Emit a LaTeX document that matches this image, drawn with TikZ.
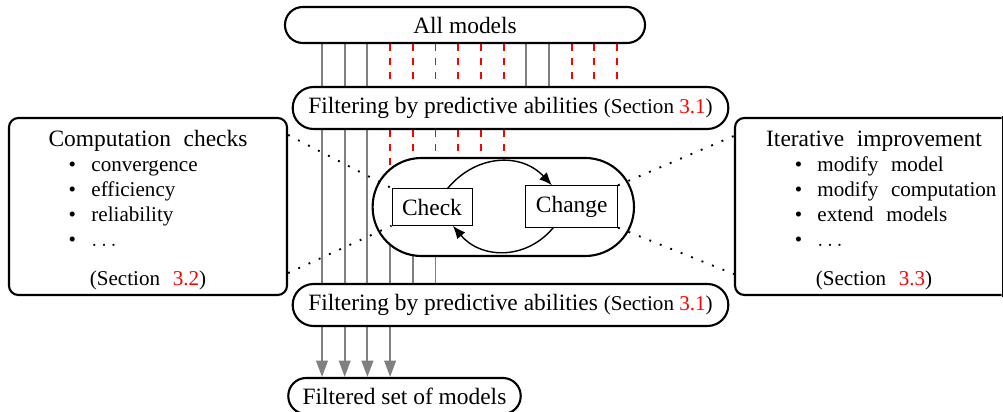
\documentclass[tikz,border=0pt]{standalone}
\usepackage{fontspec}
\setmainfont{Liberation Serif}
\usepackage{xcolor}
\usetikzlibrary{arrows.meta,calc,backgrounds}
\newcommand{\bulletitem}{\hspace*{25.5pt}\makebox[9.7pt][l]{\textbullet}}
\newcommand{\sidesetup}{\baselineskip=10.6pt\spaceskip=.6em\relax}
\newcommand{\sidetitle}[1]{\makebox[\linewidth]{\rule{0pt}{10pt}\normalsize #1}}

\begin{document}
\begin{tikzpicture}[x=0.015cm,y=0.015cm,
  pill/.style={draw,line width=0.9pt,fill=white,rounded corners=7.6pt,minimum width=5.4cm,minimum height=0.54cm,inner sep=0pt},
  filterbox/.style={pill,rounded corners=8.9pt,minimum width=6.534cm,minimum height=0.63cm},
  stepbox/.style={draw,inner sep=4.3pt},
  sidebox/.style={line width=0.9pt,rounded corners=4pt,minimum width=4.17cm,minimum height=2.655cm,text width=4.17cm,inner sep=0pt,align=left,font=\small},
  kept/.style={gray,thick},
  dropped/.style={red,thick,dashed},
  cyclearrow/.style={semithick,-{Latex[length=5.5pt,width=4.5pt]}},
  link/.style={thick,loosely dotted}]
\useasboundingbox (0,0) rectangle (1003,-412);
% pipeline
\node[pill] (allm) at (465,-25) {All models};
\node[filterbox] (filtA) at (510.5,-108) {Filtering by predictive abilities {\small(Section \textcolor{red}{3.1})}};
\node[filterbox] (filtB) at (510.5,-305) {Filtering by predictive abilities {\small(Section \textcolor{red}{3.1})}};
\node[pill,minimum width=3.486cm] (filtC) at (404.5,-396) {Filtered set of models};
% check / change loop
\node[draw,line width=0.9pt,fill=white,rounded corners=20.8pt,minimum width=3.92cm,minimum height=1.47cm] (loop) at (503.3,-207) {};
\node[stepbox] (check) at (432,-207) {Check};
\node[stepbox] (change) at (571.7,-206.5) {Change};
\draw[cyclearrow] (check.50) to[out=50,in=133,looseness=1.1] (change.133);
\draw[cyclearrow] (change.229) to[out=230,in=-50,looseness=1.1] (check.-42);
% side boxes
\node[sidebox,draw] (checks) at (148,-206.5) {\sidesetup
  \sidetitle{Computation checks}\\
  \bulletitem convergence\\
  \bulletitem efficiency\\
  \bulletitem reliability\\
  \bulletitem $\dots$\\[5.6pt]
  \makebox[\linewidth]{(Section \textcolor{red}{3.2})}};
\begin{scope}
  \clip (0,0) rectangle (1001.6,-412);
  \node[sidebox,draw] (iter) at (874,-206.5) {\sidesetup
    \sidetitle{Iterative improvement}\\
    \bulletitem modify model\\
    \bulletitem modify computation\\
    \bulletitem extend models\\
    \bulletitem $\dots$\\[5.6pt]
    \makebox[\linewidth]{(Section \textcolor{red}{3.3})}};
\end{scope}
\draw[line width=0.9pt,line cap=rect] ($(iter.north east)+(-11.4,0)$) -- ($(iter.south east)+(-11.4,0)$);
\coordinate (ckA) at ($(checks.north east)+(0,-18)$);
\coordinate (ckB) at ($(checks.south east)+(0,23)$);
\coordinate (itA) at ($(iter.north west)+(0,-19)$);
\coordinate (itB) at ($(iter.south west)+(0,22)$);
\draw[link] (ckA) -- (check.north west);
\draw[link] (ckB) -- (check.south west);
\draw[link] (change.north east) -- (itA);
\draw[link] (change.south east) -- (itB);
% model lines
\foreach \i in {0,...,13} \coordinate (m\i) at ({322+22.7*\i},0);
\begin{scope}[on background layer]
  \foreach \i in {0,1,2,9,10} \draw[kept] (m\i |- allm.south) -- (m\i |- filtA.north);
  \foreach \i in {3,...,8,11,12,13} \draw[dropped] (m\i |- allm.south) -- (m\i |- filtA.north);
  \foreach \i in {0,1,2} \draw[kept] (m\i |- filtA.south) -- (m\i |- filtB.north);
  \foreach \i in {3,...,8} \draw[dropped] (m\i |- filtA.south) -- (m\i |- loop.center);
  \foreach \i in {3,4,5} \draw[kept] (m\i |- loop.center) -- (m\i |- filtB.north);
  \foreach \i in {0,...,3} \draw[kept,-{Triangle[length=7pt,width=5pt]}] (m\i |- filtB.south) -- (m\i |- filtC.north);
\end{scope}
\end{tikzpicture}
\end{document}
